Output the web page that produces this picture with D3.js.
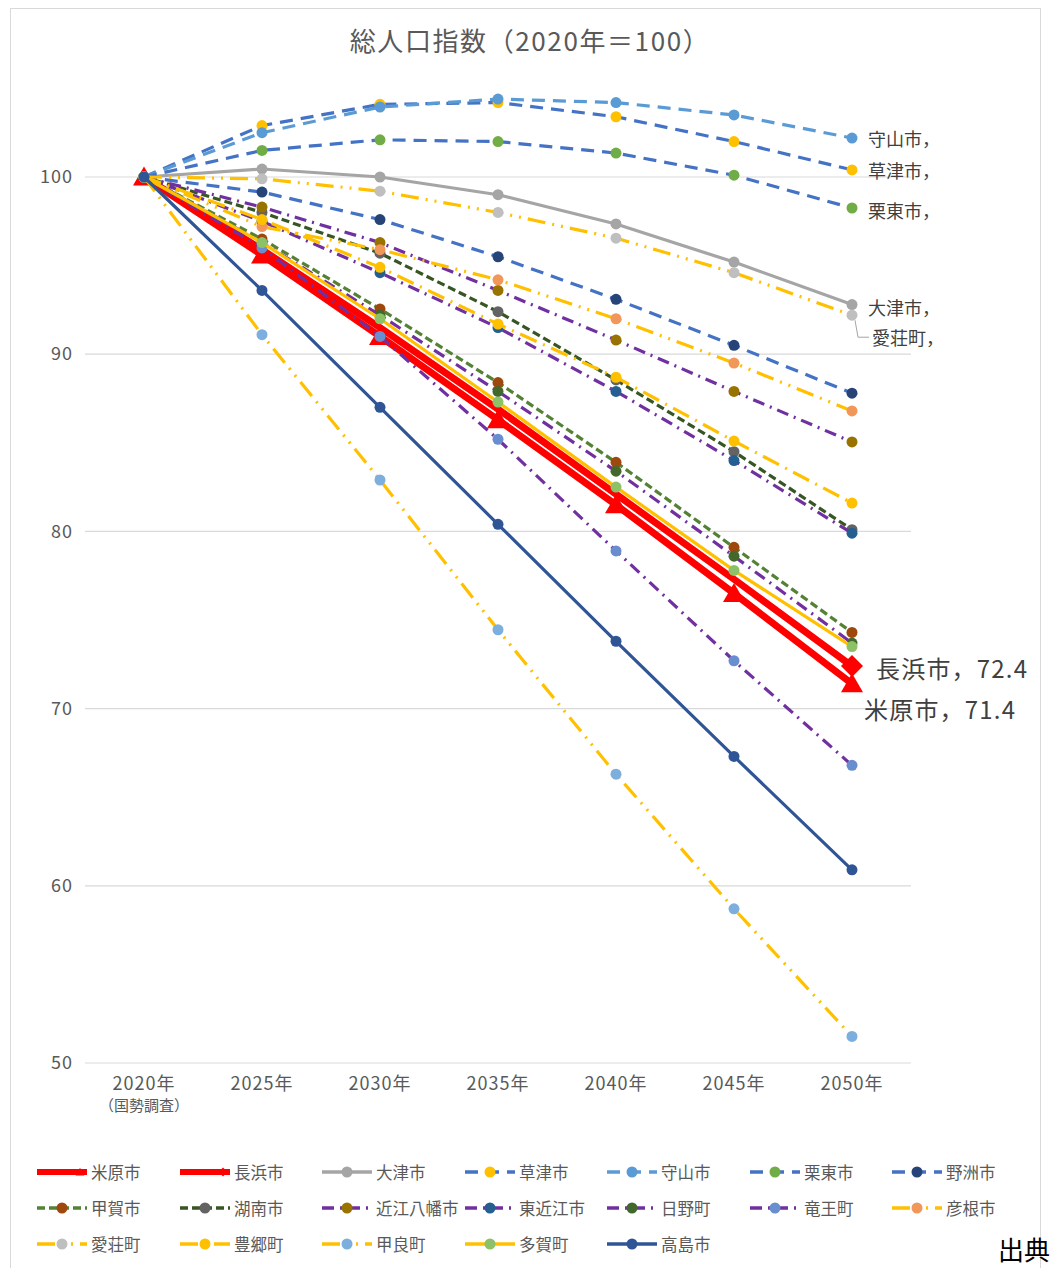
<!DOCTYPE html>
<html><head><meta charset="utf-8">
<script src="https://cdn.jsdelivr.net/npm/d3@7"></script>
<style>body{margin:0;background:#fff;} svg{display:block;font-family:"Noto Sans CJK JP","Noto Sans",sans-serif;}</style>
</head><body>
<svg id="c" width="1052" height="1268"></svg>
<script>
const years = ["2020年","2025年","2030年","2035年","2040年","2045年","2050年"];
const yTicks = [50,60,70,80,90,100];
const names = ["米原市","長浜市","大津市","草津市","守山市","栗東市","野洲市","甲賀市","湖南市","近江八幡市","東近江市","日野町","竜王町","彦根市","愛荘町","豊郷町","甲良町","多賀町","高島市"];
const vMaibara   = [100,95.6,91.0,86.3,81.5,76.5,71.4];
const vNagahama  = [100,95.9,91.5,86.9,82.1,77.3,72.4];
const vOtsu      = [100,100.45,100.0,99.0,97.35,95.2,92.8];
const vKusatsu   = [100,102.9,104.1,104.2,103.4,102.0,100.4];
const vMoriyama  = [100,102.5,103.95,104.4,104.2,103.5,102.2];
const vRitto     = [100,101.5,102.1,102.0,101.35,100.1,98.25];
const vYasu      = [100,99.15,97.6,95.5,93.1,90.5,87.8];
const vKoka      = [100,96.5,92.55,88.4,83.9,79.1,74.3];
const vKonan     = [100,98.0,95.7,92.4,88.55,84.5,80.1];
const vOmihachiman = [100,98.3,96.3,93.6,90.8,87.9,85.05];
const vHigashiomi = [100,97.5,94.6,91.5,87.9,84.0,79.9];
const vHino      = [100,96.3,92.2,87.9,83.4,78.6,73.7];
const vRyuo      = [100,96.0,91.0,85.2,78.9,72.7,66.8];
const vHikone    = [100,97.2,95.9,94.2,92.0,89.5,86.8];
const vAisho     = [100,99.9,99.2,98.0,96.55,94.6,92.2];
const vToyosato  = [100,97.6,94.9,91.7,88.7,85.1,81.6];
const vKora      = [100,91.1,82.9,74.45,66.3,58.7,51.5];
const vTaga      = [100,96.3,92.0,87.3,82.5,77.8,73.5];
const vTakashima = [100,93.6,87.0,80.4,73.8,67.3,60.9];
const values = [vMaibara,vNagahama,vOtsu,vKusatsu,vMoriyama,vRitto,vYasu,vKoka,vKonan,vOmihachiman,vHigashiomi,vHino,vRyuo,vHikone,vAisho,vToyosato,vKora,vTaga,vTakashima];
const lineColors = ["#FF0000","#FF0000","#A5A5A5","#4472C4","#5B9BD5","#4472C4","#4472C4","#548235","#375623","#7030A0","#7030A0","#7030A0","#7030A0","#FFC000","#FFC000","#FFC000","#FFC000","#FFC000","#2F5597"];
const markerColors = ["#FF0000","#FF0000","#A5A5A5","#FFC000","#5B9BD5","#70AD47","#264478","#9E480E","#636363","#997300","#255E91","#43682B","#698ED0","#F1975A","#BFBFBF","#FFC000","#7CAFDD","#8CC168","#2F5597"];
const dashStyles = ["","","","dash","dash","dash","dash","sdash","sdash","dashdot","dashdot","dashdot","dashdot","lddd","lddd","ldd","lddd","","" ];
const endLabels = ["米原市，71.4","長浜市，72.4","大津市，","草津市，","守山市，","栗東市，","","","","","","","","","愛荘町，","","","",""];

const dashMap = {"":null,"dash":"13 8","sdash":"8 4","dashdot":"12 6 2 6","lddd":"18 7 2 7 2 7","ldd":"18 7 2 7"};
const svg = d3.select("#c");
const x = d3.scaleBand().domain(years).range([85,911]);
const y = d3.scaleLinear().domain([50,100]).range([1063,177]);
const cx = d => x(d)+x.bandwidth()/2;

// border
svg.append("rect").attr("x",10.5).attr("y",8.5).attr("width",1030).attr("height",1270).attr("fill","none").attr("stroke","#D9D9D9");

// title
svg.append("text").attr("x",530).attr("y",51).attr("text-anchor","middle").attr("font-size",26).attr("letter-spacing",1.6).attr("fill","#595959").text("総人口指数（2020年＝100）");

// grid
svg.append("g").selectAll("line").data(yTicks).join("line")
  .attr("x1",85).attr("x2",911).attr("y1",d=>y(d)).attr("y2",d=>y(d)).attr("stroke","#D9D9D9").attr("stroke-width",1.2);
const yAxis = d3.axisLeft(y).tickValues(yTicks).tickSize(0).tickPadding(12);
const gy = svg.append("g").attr("transform","translate(85,0)").call(yAxis);
gy.select(".domain").remove();
gy.selectAll("text").attr("font-size",18).attr("letter-spacing",1).attr("fill","#595959").attr("font-family","'Noto Sans CJK JP',sans-serif");
const xAxis = d3.axisBottom(x).tickSize(0).tickPadding(14);
const gx = svg.append("g").attr("transform","translate(0,1063)").call(xAxis);
gx.select(".domain").remove();
gx.selectAll("text").attr("font-size",18).attr("letter-spacing",1).attr("fill","#595959").attr("font-family","'Noto Sans CJK JP',sans-serif");
svg.append("text").attr("x",cx(years[0])).attr("y",1111).attr("text-anchor","middle").attr("font-size",15).attr("fill","#595959").text("（国勢調査）");

const line = d3.line().x((d,i)=>cx(years[i])).y(d=>y(d));

function marker(g, i, px, py, scale){
  const s = scale||1;
  if(i===0){
    const h=19*s, w=22*s;
    g.append("path").attr("d",`M${px},${py-h*0.55} L${px+w/2},${py+h*0.45} L${px-w/2},${py+h*0.45} Z`).attr("fill","#FF0000");
  } else if(i===1){
    const r=11*s;
    g.append("path").attr("d",`M${px},${py-r} L${px+r},${py} L${px},${py+r} L${px-r},${py} Z`).attr("fill","#FF0000");
  } else {
    g.append("circle").attr("cx",px).attr("cy",py).attr("r",5.5*s).attr("fill",markerColors[i]);
  }
}

values.forEach((vals,i)=>{
  const g = svg.append("g");
  g.append("path").attr("d",line(vals)).attr("fill","none")
    .attr("stroke",lineColors[i]).attr("stroke-width", i<2?7:3.2)
    .attr("stroke-dasharray",dashMap[dashStyles[i]])
    .attr("stroke-linejoin","round");
  if(i===0){
    vals.forEach((v,j)=>marker(g,0,cx(years[j]),y(v)));
  } else if(i===1){
    marker(g,1,cx(years[6]),y(vals[6]));
  } else {
    vals.forEach((v,j)=>marker(g,i,cx(years[j]),y(v)));
  }
});

// end labels
const lx = cx(years[6]);
const labelPos = {
  4:{dx:16,dy:0,fs:18}, 3:{dx:16,dy:0,fs:18}, 5:{dx:16,dy:2,fs:18}, 2:{dx:16,dy:2,fs:18},
  14:{dx:20,dy:22,fs:18}, 1:{dx:24,dy:1,fs:24}, 0:{dx:12,dy:25,fs:24}
};
Object.keys(labelPos).forEach(k=>{
  const i=+k, p=labelPos[k];
  const py = y(values[i][6]);
  svg.append("text").attr("x",lx+p.dx).attr("y",py+p.dy).attr("dominant-baseline","central")
    .attr("font-size",p.fs).attr("letter-spacing",p.fs>20?1.2:0).attr("fill","#404040").text(endLabels[i]);
});
// leader for 愛荘町
{
  const py=y(values[14][6]);
  svg.append("path").attr("d",`M${lx+3},${py+5} L${lx+6},${py+22} L${lx+17},${py+22}`).attr("fill","none").attr("stroke","#A5A5A5").attr("stroke-width",1);
}

// legend
const colX = [37,180,322,465,607,750,892];
const rowY = [1172,1208,1244];
names.forEach((n,i)=>{
  const r=Math.floor(i/7), c=i%7;
  const x0=colX[c], yy=rowY[r];
  const g=svg.append("g");
  g.append("line").attr("x1",x0).attr("x2",x0+50).attr("y1",yy).attr("y2",yy)
    .attr("stroke",lineColors[i]).attr("stroke-width",i<2?6:3.5)
    .attr("stroke-dasharray",dashMap[dashStyles[i]]);
  if(i<2) marker(g,i,x0+43,yy,0.4);
  else g.append("circle").attr("cx",x0+25).attr("cy",yy).attr("r",5.5).attr("fill",markerColors[i]);
  g.append("text").attr("x",x0+54).attr("y",yy).attr("dominant-baseline","central").attr("font-size",16.5).attr("fill","#595959").text(n);
});

svg.append("text").attr("x",998).attr("y",1260).attr("font-size",26).attr("fill","#000").text("出典");
</script>
</body></html>
